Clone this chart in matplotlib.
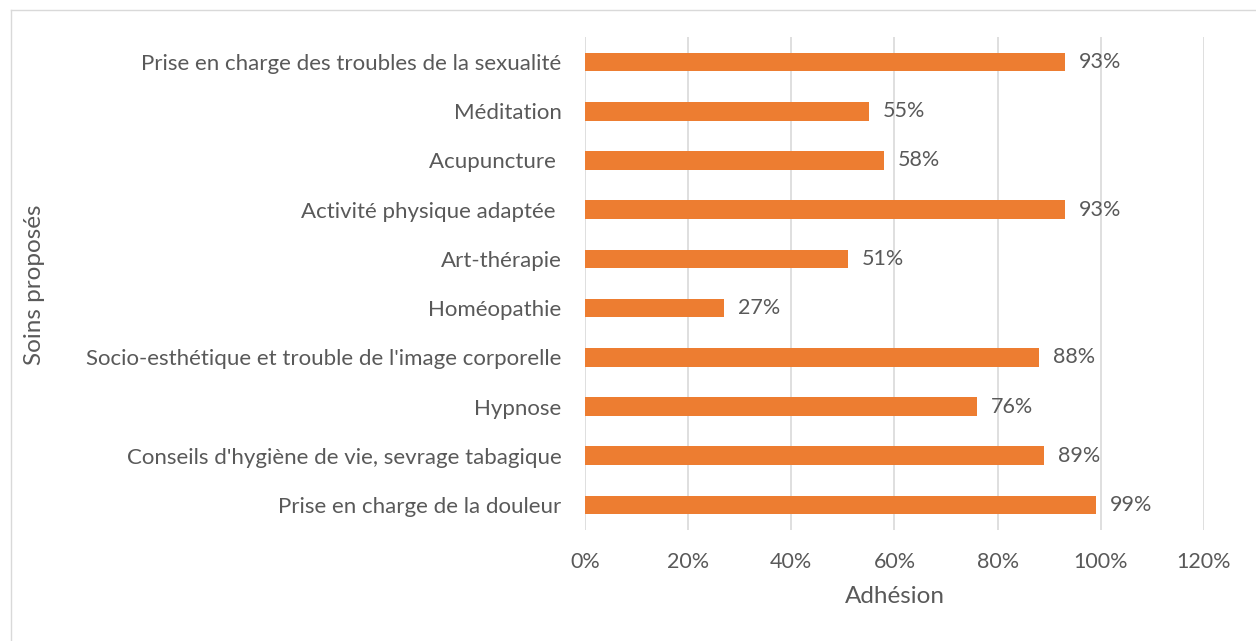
import matplotlib
matplotlib.use("Agg")
import matplotlib.pyplot as plt
from matplotlib.lines import Line2D
from matplotlib.ticker import FuncFormatter

categories = [
    "Prise en charge de la douleur",
    "Conseils d'hygiène de vie, sevrage tabagique",
    "Hypnose",
    "Socio-esthétique et trouble de l'image corporelle",
    "Homéopathie",
    "Art-thérapie",
    "Activité physique adaptée ",
    "Acupuncture ",
    "Méditation",
    "Prise en charge des troubles de la sexualité",
]
values = [0.99, 0.89, 0.76, 0.88, 0.27, 0.51, 0.93, 0.58, 0.55, 0.93]
labels = ["99%", "89%", "76%", "88%", "27%", "51%", "93%", "58%", "55%", "93%"]
xticks = [0, 0.2, 0.4, 0.6, 0.8, 1.0, 1.2]

plt.rcParams['font.family'] = ['Lato', 'DejaVu Sans']
txt = '#595959'
W, H = 1256, 641
fig = plt.figure(figsize=(W / 100, H / 100), dpi=100)
ax = fig.add_axes([585 / W, (H - 529.6) / H, 619 / W, 492.2 / H])

y = list(range(len(categories)))
ax.barh(y, values, height=0.38, color='#ED7D31', zorder=3)
for yi, v, lab in zip(y, values, labels):
    ax.annotate(lab, (v, yi), xytext=(10, 0), textcoords='offset points',
                va='center', ha='left', fontsize=15.5, color=txt)

ax.set_xlim(0, 1.2)
ax.set_ylim(-0.5, len(categories) - 0.5)
ax.set_yticks(y)
ax.set_yticklabels(categories, fontsize=16, color=txt)
ax.set_xticks(xticks)
ax.xaxis.set_major_formatter(FuncFormatter(lambda v, p: f"{v*100:.0f}%"))
ax.tick_params(axis='x', labelsize=15.5, labelcolor=txt, length=0, pad=16)
ax.tick_params(axis='y', length=0, pad=17)
ax.grid(axis='x', color='#D9D9D9', linewidth=1.2, zorder=0)
for s in ax.spines.values():
    s.set_visible(False)

ax.set_xlabel("Adhésion", fontsize=17.5, color=txt, labelpad=10)
fig.text(35 / W, 1 - 285 / H, "Soins proposés", rotation=90, fontsize=17.5,
         color=txt, ha='center', va='center')

fig.add_artist(Line2D([10.5 / W, 10.5 / W], [0, 1 - 9.5 / H], color='#D9D9D9', linewidth=1, transform=fig.transFigure))
fig.add_artist(Line2D([10.5 / W, 1], [1 - 9.5 / H, 1 - 9.5 / H], color='#D9D9D9', linewidth=1, transform=fig.transFigure))

fig.savefig("out.png", dpi=100)
